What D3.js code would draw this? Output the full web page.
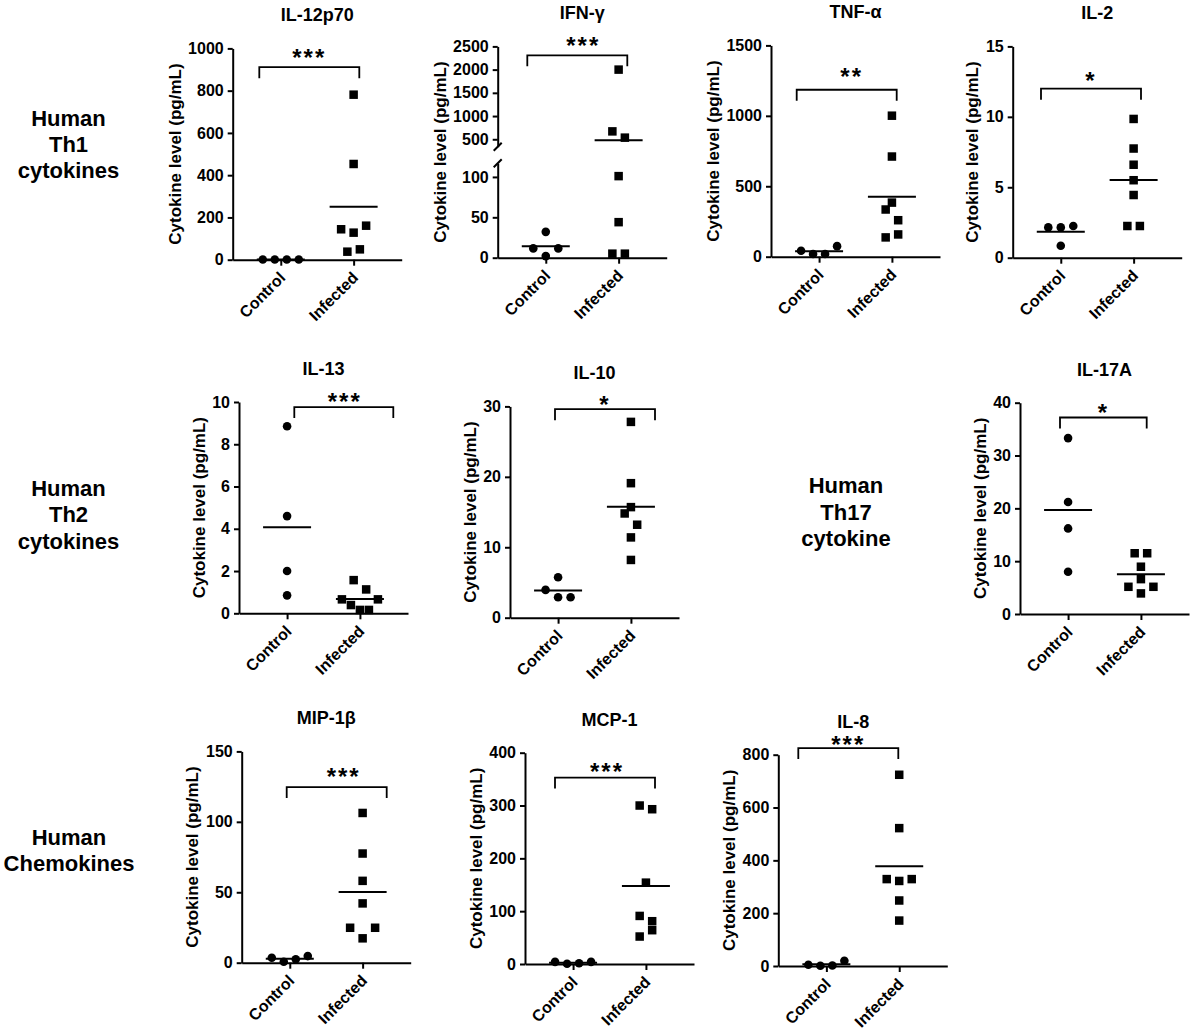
<!DOCTYPE html>
<html>
<head>
<meta charset="utf-8">
<script src="https://cdn.jsdelivr.net/npm/d3@7"></script>
<style>
  body { margin: 0; background: #fff; }
  svg { display: block; }
  text { font-family: "Liberation Sans", Arial, Helvetica, sans-serif; font-weight: bold; fill: #000; }
  .axis path, .axis line { stroke: #000; stroke-width: 2; }
</style>
</head>
<body>
<svg id="fig" width="1192" height="1031"></svg>
<script>
// groups on the x axis
var groups = ["Control", "Infected"];

// cytokine levels (pg/mL); side-by-side points are listed left to right
var il12p70Control = [1, 1, 1, 1];
var il12p70Infected = [781, 453, 144, 128, 161, 38, 49];
var ifngControl = [32, 11.5, 2, 11.5];
var ifngInfected = [2000, 670, 535, 101, 44, 5, 5];
var tnfaControl = [42, 19, 19, 75];
var tnfaInfected = [1001, 711, 384, 335, 259, 137, 158];
var il2Control = [2.15, 2.15, 2.25, 0.85];
var il2Infected = [9.85, 7.75, 6.6, 5.5, 4.45, 2.25, 2.25];
var il13Control = [8.85, 4.6, 2.0, 0.85];
var il13Infected = [1.57, 1.13, 0.66, 0.39, 0.16, 0.16, 0.66];
var il10Control = [5.75, 3.95, 2.9, 2.9];
var il10Infected = [27.8, 19.1, 15.7, 14.8, 13.2, 11.4, 8.2];
var il17aControl = [33.3, 21.2, 16.2, 8.0];
var il17aInfected = [11.5, 11.5, 8.95, 6.6, 5.15, 3.9, 5.15];
var mip1bControl = [3.5, 0.7, 2.4, 4.7];
var mip1bInfected = [106.3, 77.5, 58.1, 42.1, 24.8, 17.3, 24.8];
var mcp1Control = [4, 0.5, 1.5, 4];
var mcp1Infected = [300, 293, 154, 91, 81, 52, 64];
var il8Control = [5, 1, 2, 20];
var il8Infected = [724, 522, 329, 322, 329, 248, 172];

// tick labels
var il12p70Ticks = [0, 200, 400, 600, 800, 1000];
var ifngTicksLow = [0, 50, 100];
var ifngTicksHigh = [500, 1000, 1500, 2000, 2500];
var tnfaTicks = [0, 500, 1000, 1500];
var il2Ticks = [0, 5, 10, 15];
var il13Ticks = [0, 2, 4, 6, 8, 10];
var il10Ticks = [0, 10, 20, 30];
var il17aTicks = [0, 10, 20, 30, 40];
var mip1bTicks = [0, 50, 100, 150];
var mcp1Ticks = [0, 100, 200, 300, 400];
var il8Ticks = [0, 200, 400, 600, 800];

// significance stars and the level of each bracket (pg/mL)
var stars = ["***", "***", "**", "*", "***", "*", "*", "***", "***", "***"];
var bracketLevels = [911, 2307, 1185, 12.0, 9.76, 29.6, 37.2, 124.7, 352.9, 825];

var titles = ["IL-12p70", "IFN-\u03b3", "TNF-\u03b1", "IL-2", "IL-13", "IL-10", "IL-17A", "MIP-1\u03b2", "MCP-1", "IL-8"];

var svg = d3.select("#fig");
var plotH = 211.3;

// layout of each panel: axis corner, bracket ends (px from the y axis), star nudges
var panels = [
  { ctrl: il12p70Control, inf: il12p70Infected, ticks: il12p70Ticks, max: 1000, x: 232.7, y: 259.7, a: 26.6, b: 126.6, sdy: -14.4, sdx: 0 },
  { ctrl: ifngControl, inf: ifngInfected, broken: true, x: 497.7, y: 257.7, a: 29.6, b: 129.6, sdy: -15.2, sdx: 6 },
  { ctrl: tnfaControl, inf: tnfaInfected, ticks: tnfaTicks, max: 1500, x: 771, y: 256.7, a: 25.7, b: 125.7, sdy: -18.3, sdx: 5 },
  { ctrl: il2Control, inf: il2Infected, ticks: il2Ticks, max: 15, x: 1012.7, y: 257.7, a: 28.3, b: 128.3, sdy: -13.3, sdx: 0 },
  { ctrl: il13Control, inf: il13Infected, ticks: il13Ticks, max: 10, x: 239, y: 613.3, a: 55.3, b: 154.3, sdy: -10, sdx: 1 },
  { ctrl: il10Control, inf: il10Infected, ticks: il10Ticks, max: 30, x: 510, y: 617.7, a: 45, b: 145, sdy: -10, sdx: 0 },
  { ctrl: il17aControl, inf: il17aInfected, ticks: il17aTicks, max: 40, x: 1020, y: 614, a: 40, b: 126.7, sdy: -9.6, sdx: 0 },
  { ctrl: mip1bControl, inf: mip1bInfected, ticks: mip1bTicks, max: 150, x: 241.7, y: 962.7, a: 45, b: 145, sdy: -15, sdx: 7 },
  { ctrl: mcp1Control, inf: mcp1Infected, ticks: mcp1Ticks, max: 400, x: 525, y: 964, a: 30, b: 130, sdy: -11.3, sdx: 2 },
  { ctrl: il8Control, inf: il8Infected, ticks: il8Ticks, max: 800, x: 778.3, y: 966, a: 20, b: 120, sdy: -8.3, sdx: 0, titleDx: -9.5 }
];

// points that sit close in height are set side by side, centred on the group
function spread(vals, heightOf) {
  var idx = vals.map(function (v, i) { return i; })
    .sort(function (p, q) { return heightOf(vals[p]) - heightOf(vals[q]) || p - q; });
  var off = vals.map(function () { return 0; });
  var i = 0;
  while (i < idx.length) {
    var start = heightOf(vals[idx[i]]);
    var j = i;
    while (j + 1 < idx.length && heightOf(vals[idx[j + 1]]) - start < 11.5) j++;
    var grp = idx.slice(i, j + 1).sort(function (p, q) { return p - q; });
    var n = grp.length;
    var step = n > 1 ? Math.min(12.5, 36 / (n - 1)) : 0;
    grp.forEach(function (k, m) { off[k] = (m - (n - 1) / 2) * step; });
    i = j + 1;
  }
  return off;
}

panels.forEach(function (p, pi) {
  var g = svg.append("g");
  var x0 = p.x, y0 = p.y;
  var yf, yAxes = [];

  if (p.broken) {
    var low = d3.scaleLinear().domain([0, 117]).range([y0, y0 - 94.5]);
    var high = d3.scaleLinear().domain([340, 2500]).range([y0 - 111, y0 - plotH]);
    yf = function (v) { return v <= 117 ? low(v) : high(v); };
    yAxes.push({ scale: low, ticks: ifngTicksLow });
    yAxes.push({ scale: high, ticks: ifngTicksHigh });
  } else {
    var ys = d3.scaleLinear().domain([0, p.max]).range([y0, y0 - plotH]);
    yf = ys;
    yAxes.push({ scale: ys, ticks: p.ticks });
  }

  var xs = d3.scalePoint().domain(groups).range([x0, x0 + 169]).padding(0.66);

  // x axis
  g.append("g")
    .attr("class", "axis")
    .attr("transform", "translate(0," + y0 + ")")
    .call(d3.axisBottom(xs).tickSize(6).tickSizeOuter(0).tickFormat(""));

  // y axis (two pieces for the broken IFN-γ axis)
  var maxW = 0;
  yAxes.forEach(function (ax) {
    var ag = g.append("g")
      .attr("class", "axis")
      .attr("transform", "translate(" + x0 + ",0)")
      .call(d3.axisLeft(ax.scale)
        .tickValues(ax.ticks)
        .tickFormat(d3.format("d"))
        .tickSize(5).tickPadding(4).tickSizeOuter(0));
    ag.attr("font-family", null).attr("font-size", null);
    ag.selectAll(".tick text").style("font-size", "16px");
    ag.selectAll(".tick text").each(function () {
      maxW = Math.max(maxW, this.getComputedTextLength());
    });
  });

  if (p.broken) {
    [y0 - 94.5, y0 - 111].forEach(function (yy) {
      g.append("line")
        .attr("x1", x0 - 4).attr("y1", yy + 4)
        .attr("x2", x0 + 4).attr("y2", yy - 4)
        .attr("stroke", "#000").attr("stroke-width", 2);
    });
  }

  // axis title
  g.append("text")
    .attr("transform", "translate(" + (x0 - maxW - 21 + 4.4) + "," + (y0 - plotH / 2) + ") rotate(-90)")
    .attr("text-anchor", "middle")
    .style("font-size", "17px")
    .text("Cytokine level (pg/mL)");

  // group labels
  groups.forEach(function (gr) {
    g.append("text")
      .attr("transform", "translate(" + (xs(gr) + 5.5) + "," + (y0 + 19) + ") rotate(-45)")
      .attr("text-anchor", "end")
      .style("font-size", "16px")
      .text(gr);
  });

  // panel title
  g.append("text")
    .attr("x", x0 + 84.5 + (p.titleDx || 0))
    .attr("y", y0 - 238.5)
    .attr("text-anchor", "middle")
    .style("font-size", "18px")
    .text(titles[pi]);

  var heightOf = function (v) { return y0 - yf(v); };

  // control: circles
  var offC = spread(p.ctrl, heightOf);
  g.selectAll(null)
    .data(p.ctrl)
    .enter().append("circle")
    .attr("cx", function (d, i) { return xs("Control") + offC[i]; })
    .attr("cy", function (d) { return yf(d); })
    .attr("r", 4.3)
    .attr("fill", "#000");

  // infected: squares
  var offI = spread(p.inf, heightOf);
  g.selectAll(null)
    .data(p.inf)
    .enter().append("rect")
    .attr("x", function (d, i) { return xs("Infected") + offI[i] - 4.25; })
    .attr("y", function (d) { return yf(d) - 4.25; })
    .attr("width", 8.5)
    .attr("height", 8.5)
    .attr("fill", "#000");

  // mean lines
  [["Control", p.ctrl], ["Infected", p.inf]].forEach(function (s) {
    var m = d3.mean(s[1]);
    g.append("line")
      .attr("x1", xs(s[0]) - 24).attr("x2", xs(s[0]) + 24)
      .attr("y1", yf(m)).attr("y2", yf(m))
      .attr("stroke", "#000").attr("stroke-width", 2);
  });

  // significance bracket
  var by = yf(bracketLevels[pi]);
  g.append("path")
    .attr("d", "M" + (x0 + p.a) + "," + (by + 11) + "V" + by + "H" + (x0 + p.b) + "V" + (by + 11))
    .attr("fill", "none")
    .attr("stroke", "#000")
    .attr("stroke-width", 1.8);

  g.append("text")
    .attr("x", x0 + (p.a + p.b) / 2 + p.sdx)
    .attr("y", by + p.sdy + 13.4)
    .attr("text-anchor", "middle")
    .style("font-size", "24px")
    .style("letter-spacing", "2px")
    .text(stars[pi]);
});

// row labels
var rowLabels = [
  { lines: ["Human", "Th1", "cytokines"], x: 68.5, y: 125.7 },
  { lines: ["Human", "Th2", "cytokines"], x: 68.5, y: 496 },
  { lines: ["Human", "Th17", "cytokine"], x: 846, y: 493.3 },
  { lines: ["Human", "Chemokines"], x: 69, y: 845 }
];
rowLabels.forEach(function (r) {
  r.lines.forEach(function (t, i) {
    svg.append("text")
      .attr("x", r.x)
      .attr("y", r.y + i * 26.3)
      .attr("text-anchor", "middle")
      .style("font-size", "22px")
      .text(t);
  });
});
</script>
</body>
</html>
